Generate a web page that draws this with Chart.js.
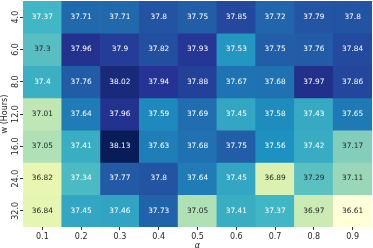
<!DOCTYPE html>
<html><head><meta charset="utf-8">
<script src="https://cdn.jsdelivr.net/npm/chart.js@4/dist/chart.umd.min.js"></script>
<style>html,body{margin:0;padding:0;background:#fff}</style>
</head><body>
<canvas id="c" width="373" height="248"></canvas>
<script>
const alphaLabels = ['0.1','0.2','0.3','0.4','0.5','0.6','0.7','0.8','0.9'];
const wLabels = ['4.0','6.0','8.0','12.0','16.0','24.0','32.0'];
const w4  = [37.37, 37.71, 37.71, 37.8, 37.75, 37.85, 37.72, 37.79, 37.8];
const w6  = [37.3, 37.96, 37.9, 37.82, 37.93, 37.53, 37.75, 37.76, 37.84];
const w8  = [37.4, 37.76, 38.02, 37.94, 37.88, 37.67, 37.68, 37.97, 37.86];
const w12 = [37.01, 37.64, 37.96, 37.59, 37.69, 37.45, 37.58, 37.43, 37.65];
const w16 = [37.05, 37.41, 38.13, 37.63, 37.68, 37.75, 37.56, 37.42, 37.17];
const w24 = [36.82, 37.34, 37.77, 37.8, 37.64, 37.45, 36.89, 37.29, 37.11];
const w32 = [36.84, 37.45, 37.46, 37.73, 37.05, 37.41, 37.37, 36.97, 36.61];
const rows = [w4, w6, w8, w12, w16, w24, w32];

const cmapStops = ['#ffffd9','#edf8b1','#c7e9b4','#7fcdbb','#41b6c4','#1d91c0','#225ea8','#253494','#081d58'];
const all = rows.flat();
const vmin = Math.min(...all), vmax = Math.max(...all);
function hex2rgb(h){return [parseInt(h.slice(1,3),16),parseInt(h.slice(3,5),16),parseInt(h.slice(5,7),16)];}
const stops = cmapStops.map(hex2rgb);
function cmap(v){
  let t = (v - vmin) / (vmax - vmin);
  t = Math.max(0, Math.min(1, t));
  const p = t * (stops.length - 1);
  const i = Math.min(stops.length - 2, Math.floor(p));
  const f = p - i;
  return stops[i].map((c, k) => Math.round(c + (stops[i+1][k] - c) * f));
}
function lum(rgb){
  const l = rgb.map(c => { c /= 255; return c <= 0.03928 ? c / 12.92 : Math.pow((c + 0.055) / 1.055, 2.4); });
  return 0.2126*l[0] + 0.7152*l[1] + 0.0722*l[2];
}

const datasets = rows.map((vals, r) => ({
  label: wLabels[r],
  data: vals.map(() => [r, r + 1]),
  values: vals,
  backgroundColor: vals.map(v => 'rgb(' + cmap(v).join(',') + ')'),
  borderWidth: 0,
  grouped: false,
  barPercentage: 1,
  categoryPercentage: 1
}));

const cellText = {
  id: 'cellText',
  afterDatasetsDraw(chart) {
    const ctx = chart.ctx;
    ctx.save();
    ctx.font = '7.4px "DejaVu Sans"';
    ctx.textAlign = 'center';
    ctx.textBaseline = 'middle';
    chart.data.datasets.forEach((ds, di) => {
      const meta = chart.getDatasetMeta(di);
      meta.data.forEach((el, i) => {
        const v = ds.values[i];
        ctx.fillStyle = lum(cmap(v)) > 0.408 ? '#262626' : '#ffffff';
        ctx.fillText(String(v), el.x, (el.y + el.base) / 2);
      });
    });
    ctx.restore();
  }
};

new Chart(document.getElementById('c'), {
  type: 'bar',
  data: { labels: alphaLabels, datasets },
  plugins: [cellText],
  options: {
    responsive: false,
    animation: false,
    devicePixelRatio: 1,
    layout: { padding: { top: 1, right: 1, left: 0, bottom: 0 } },
    plugins: { legend: { display: false }, tooltip: { enabled: false } },
    scales: {
      x: {
        type: 'category',
        offset: true,
        grid: { offset: false, drawOnChartArea: false, tickLength: 3, color: '#333' },
        border: { display: false },
        ticks: { font: { family: 'DejaVu Sans', size: 8 }, color: '#262626', padding: 2 },
        title: { display: true, text: 'α', font: { family: 'DejaVu Sans', size: 8, style: 'italic' }, color: '#262626', padding: { top: 0, bottom: -2.5 } },
        afterFit: s => { s.height = 21; }
      },
      y: {
        type: 'linear',
        min: 0, max: 7,
        reverse: true,
        afterBuildTicks: s => { s.ticks = wLabels.map((_, i) => ({ value: i + 0.5 })); },
        grid: { drawOnChartArea: false, tickLength: 3, color: '#333' },
        border: { display: false },
        ticks: {
          font: { family: 'DejaVu Sans', size: 8 }, color: '#262626',
          minRotation: 90, maxRotation: 90, crossAlign: 'center', padding: -5,
          callback: (v, i) => wLabels[i]
        },
        title: { display: true, text: 'w (Hours)', font: { family: 'DejaVu Sans', size: 8 }, color: '#262626', padding: 0 },
        afterFit: s => { s.width = 23; }
      }
    }
  }
});
</script>
</body></html>
